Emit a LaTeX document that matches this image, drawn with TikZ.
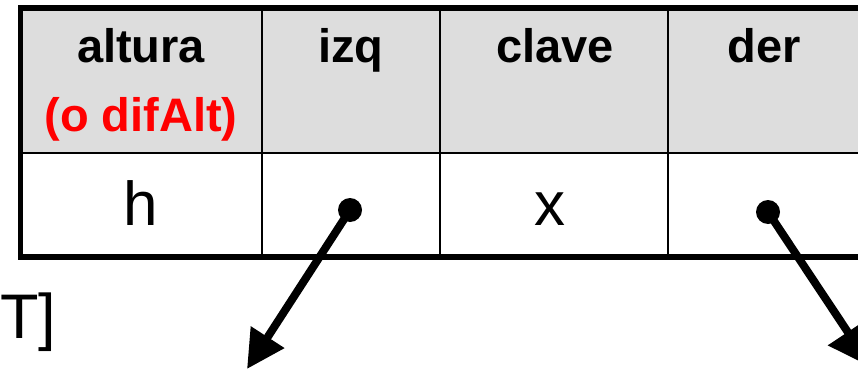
\documentclass[tikz,border=0pt]{standalone}
\usepackage{fontspec}
\setmainfont{Liberation Sans}
\usetikzlibrary{arrows.meta}
\definecolor{hdrgray}{HTML}{DDDDDD}
\definecolor{redtxt}{HTML}{FF0000}
\tikzset{
  hdr/.style={anchor=base, font=\fontsize{47}{52}\selectfont\bfseries},
  hdrred/.style={hdr, text=redtxt},
  cell/.style={anchor=base, font=\fontsize{62}{68}\selectfont},
  ptrdot/.style={circle, fill=black, inner sep=0pt, minimum size=24pt},
  ptr/.style={line width=8pt, -{Triangle[length=38pt,width=38pt]}},
  ptrbig/.style={line width=8pt, -{Triangle[length=42pt,width=46pt]}},
  thin/.style={line width=2.5pt},
  thickb/.style={line width=5.5pt}
}
\begin{document}
\begin{tikzpicture}[x=1pt,y=-1pt]
\useasboundingbox (0,0) rectangle (858,369);
\clip (0,0) rectangle (858,369);
% header fill
\fill[hdrgray] (20,8) rectangle (880,153);
% inner lines
\draw[thin] (20,153) -- (880,153);
\draw[thin] (262,8) -- (262,257);
\draw[thin] (440,8) -- (440,257);
\draw[thin] (668,8) -- (668,257);
\draw[thin] (859,8) -- (859,257);
% outer border
\draw[thickb] (880,8) -- (20.5,8) -- (20.5,257) -- (880,257);
% header texts
\node[hdr] (altura) at (141,63) {altura};
\node[hdrred] (difalt) at (141,131) {(o difAlt)};
\node[hdr] (izq) at (351,63) {izq};
\node[hdr] (clave) at (555,63) {clave};
\node[hdr] (der) at (764,63) {der};
% body texts
\node[cell] (h) at (141,225) {h};
\node[cell] (x) at (550,225) {x};
% label fragment
\node[anchor=base west, inner sep=0pt, font=\fontsize{63}{68}\selectfont] (t) at (0,338) {T]};
% pointers
\node[ptrdot] (p1) at (350,210) {};
\node[ptrdot] (p2) at (768,212) {};
\coordinate (e1) at (247,369);
\coordinate (e2) at (871,367);
\draw[ptr] (p1.center) -- (e1);
\draw[ptrbig] (p2.center) -- (e2);
\end{tikzpicture}
\end{document}
